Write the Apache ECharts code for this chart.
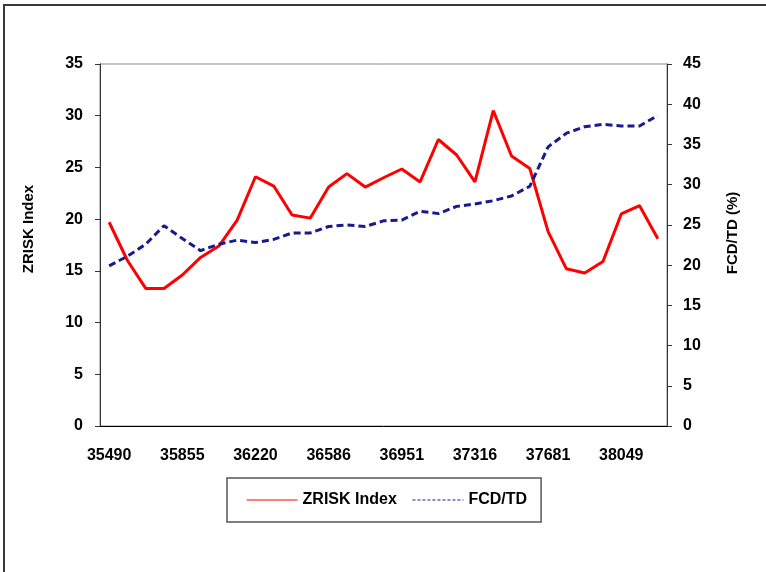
<!DOCTYPE html>
<html>
<head>
<meta charset="utf-8">
<script src="https://cdn.jsdelivr.net/npm/echarts@6/dist/echarts.min.js"></script>
<style>
  html, body { margin: 0; padding: 0; background: #fff; }
  #chart { width: 766px; height: 572px; }
</style>
</head>
<body>
<div id="chart"></div>
<script>
// quarter dates (excel serials)
const dates = [
  '35490', '35582', '35674', '35765', '35855', '35947', '36039', '36130',
  '36220', '36312', '36404', '36495', '36586', '36678', '36770', '36861',
  '36951', '37043', '37135', '37226', '37316', '37408', '37500', '37591',
  '37681', '37773', '37865', '37956', '38049', '38141', '38233'
];

const zriskIndex = [
  19.7, 16.0, 13.3, 13.3, 14.6, 16.3, 17.4, 19.9,
  24.1, 23.2, 20.4, 20.1, 23.1, 24.4, 23.1, 24.0,
  24.85, 23.6, 27.7, 26.2, 23.6, 30.5, 26.1, 24.9,
  18.8, 15.2, 14.8, 15.9, 20.5, 21.3, 18.1
];

const fcdTd = [
  19.9, 21.1, 22.6, 24.9, 23.3, 21.8, 22.6, 23.1,
  22.8, 23.2, 24.0, 24.0, 24.8, 25.0, 24.8, 25.5,
  25.6, 26.7, 26.4, 27.3, 27.6, 28.0, 28.6, 29.8,
  34.7, 36.4, 37.2, 37.5, 37.3, 37.3, 38.6
];

const font = "'Liberation Sans', Arial, sans-serif";
const labelStyle = { color: '#000', fontFamily: font, fontWeight: 'bold', fontSize: 16 };

const chart = echarts.init(document.getElementById('chart'));
chart.setOption({
  animation: false,
  backgroundColor: '#fff',
  graphic: [
    {
      type: 'rect',
      shape: { x: 4, y: 5, width: 800, height: 600 },
      style: { fill: 'none', stroke: '#3a3a3a', lineWidth: 2 },
      silent: true
    }
  ],
  grid: {
    left: 100,
    right: 99,
    top: 64,
    bottom: 146,
    show: true,
    borderColor: '#8a8a8a',
    borderWidth: 1
  },
  legend: {
    left: 227,
    top: 478,
    padding: [14, 14, 14, 19],
    itemWidth: 51,
    itemHeight: 14,
    itemGap: 15,
    borderColor: '#555',
    borderWidth: 1.5,
    textStyle: labelStyle,
    data: [
      { name: 'ZRISK Index', lineStyle: { width: 1.2 }, itemStyle: { opacity: 0 } },
      { name: 'FCD/TD', lineStyle: { width: 1.2, type: [3, 2] }, itemStyle: { opacity: 0 } }
    ]
  },
  xAxis: {
    type: 'category',
    data: dates,
    boundaryGap: true,
    axisLine: { lineStyle: { color: '#000', width: 1 } },
    axisTick: { interval: 0, length: 5, lineStyle: { color: '#000' } },
    axisLabel: Object.assign({ interval: 3, margin: 22 }, labelStyle),
    splitLine: { show: false }
  },
  yAxis: [
    {
      type: 'value',
      min: 0,
      max: 35,
      interval: 5,
      name: 'ZRISK Index',
      nameLocation: 'middle',
      nameGap: 64,
      nameRotate: 90,
      nameTextStyle: {
        color: '#000', fontFamily: font, fontWeight: 'bold', fontSize: 15,
        padding: [0, 0, 0, 32]
      },
      axisLine: { show: true, lineStyle: { color: '#333', width: 1 } },
      axisTick: { show: true, length: 5, lineStyle: { color: '#333' } },
      axisLabel: Object.assign({ margin: 17 }, labelStyle),
      splitLine: { show: false }
    },
    {
      type: 'value',
      min: 0,
      max: 45,
      interval: 5,
      position: 'right',
      name: 'FCD/TD (%)',
      nameLocation: 'middle',
      nameGap: 58,
      nameRotate: 90,
      nameTextStyle: {
        color: '#000', fontFamily: font, fontWeight: 'bold', fontSize: 15,
        padding: [0, 0, 0, 24]
      },
      axisLine: { show: true, lineStyle: { color: '#333', width: 1 } },
      axisTick: { show: true, length: 5, lineStyle: { color: '#333' } },
      axisLabel: Object.assign({ margin: 16 }, labelStyle),
      splitLine: { show: false }
    }
  ],
  series: [
    {
      name: 'ZRISK Index',
      type: 'line',
      yAxisIndex: 0,
      data: zriskIndex,
      symbol: 'none',
      lineStyle: { color: '#ff0000', width: 3 },
      itemStyle: { color: '#ff0000' }
    },
    {
      name: 'FCD/TD',
      type: 'line',
      yAxisIndex: 1,
      data: fcdTd,
      symbol: 'none',
      lineStyle: { color: '#1a1a8c', width: 3, type: [7, 4] },
      itemStyle: { color: '#1a1a8c' }
    }
  ]
});
</script>
</body>
</html>
